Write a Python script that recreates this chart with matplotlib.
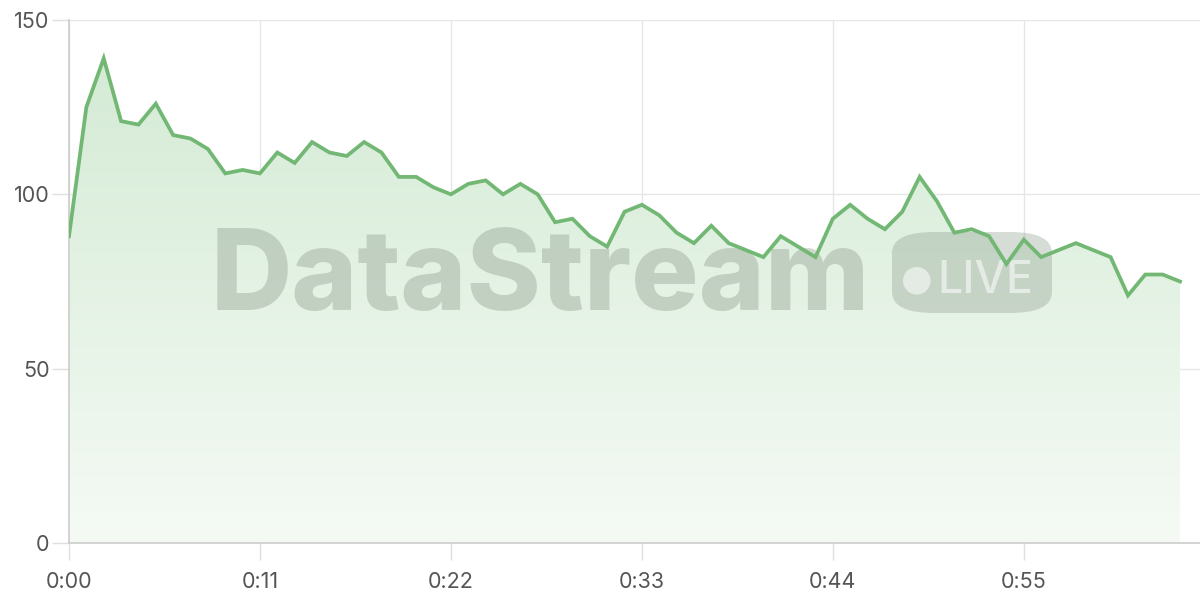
import matplotlib
matplotlib.use("Agg")
import matplotlib.pyplot as plt
import numpy as np
from matplotlib.patches import FancyBboxPatch
from matplotlib.colors import LinearSegmentedColormap

values = [88, 125, 139, 121, 120, 126, 117, 116, 113, 106, 107, 106, 112, 109, 115, 112,
          111, 115, 112, 105, 105, 102, 100, 103, 104, 100, 103, 100, 92, 93, 88, 85,
          95, 97, 94, 89, 86, 91, 86, 84, 82, 88, 85, 82, 93, 97, 93, 90, 95, 105,
          98, 89, 90, 88, 80, 87, 82, 84, 86, 84, 82, 71, 77, 77, 75]
tick_positions = [0, 11, 22, 33, 44, 55]
tick_labels = ["0:00", "0:11", "0:22", "0:33", "0:44", "0:55"]
y_ticks = [0, 50, 100, 150]

plt.rcParams['font.family'] = ['Inter', 'DejaVu Sans']

fig = plt.figure(figsize=(12, 6), dpi=100)
ax = fig.add_axes([69/1200, 57/600, 1 - 69/1200, 523/600])
x = np.arange(len(values))

ax.set_xlim(0, 65.15)
ax.set_ylim(0, 150)

# gradient fill
poly = ax.fill_between(x, values, 0, color='none')
grad = np.linspace(1, 0, 256).reshape(-1, 1)
cmap = LinearSegmentedColormap.from_list('g', ['#f5faf5', '#d4ebd5'])
im = ax.imshow(grad, cmap=cmap, aspect='auto', extent=[0, len(values) - 1, 0, 140],
               origin='upper', zorder=1)
path = poly.get_paths()[0]
im.set_clip_path(path, transform=ax.transData)

ax.plot(x, values, color='#72b874', linewidth=2.7, zorder=5, solid_joinstyle='miter')

ax.set_xticks(tick_positions)
ax.set_xticklabels(tick_labels)
ax.set_yticks(y_ticks)
ax.grid(True, color='#e6e6e6', linewidth=1.0, zorder=0)
ax.set_axisbelow(True)
for s in ['top', 'right']:
    ax.spines[s].set_visible(False)
for s in ['left', 'bottom']:
    ax.spines[s].set_color('#cccccc')
    ax.spines[s].set_linewidth(1.2)
ax.tick_params(axis='both', colors='#e0e0e0', length=12, width=1, labelsize=15.5,
               labelcolor='#555555')
ax.tick_params(axis='x', pad=9)
ax.tick_params(axis='y', pad=2)

# watermark (inside axes so the line is drawn above it)
ax.text(540/1200, 1 - 281/600, "DataStream", fontsize=81, fontweight='heavy',
        color='#8f9e8f', alpha=0.40, ha='center', va='center', zorder=3,
        transform=fig.transFigure)
badge = FancyBboxPatch((892/1200, 1 - 313/600), 160/1200, 81/600,
                       boxstyle="round,pad=0,rounding_size=0.035",
                       transform=fig.transFigure, facecolor='#8f9e8f', alpha=0.36,
                       edgecolor='none', zorder=3)
ax.add_patch(badge)
ax.text(917/1200, 1 - 280/600, "●", fontsize=26, color='white', alpha=0.55,
        ha='center', va='center', family='DejaVu Sans', zorder=3,
        transform=fig.transFigure)
ax.text(985/1200, 1 - 281/600, "LIVE", fontsize=32, fontweight='medium', color='white',
        alpha=0.55, ha='center', va='center', zorder=3, transform=fig.transFigure)

fig.savefig("out.png", dpi=100)
